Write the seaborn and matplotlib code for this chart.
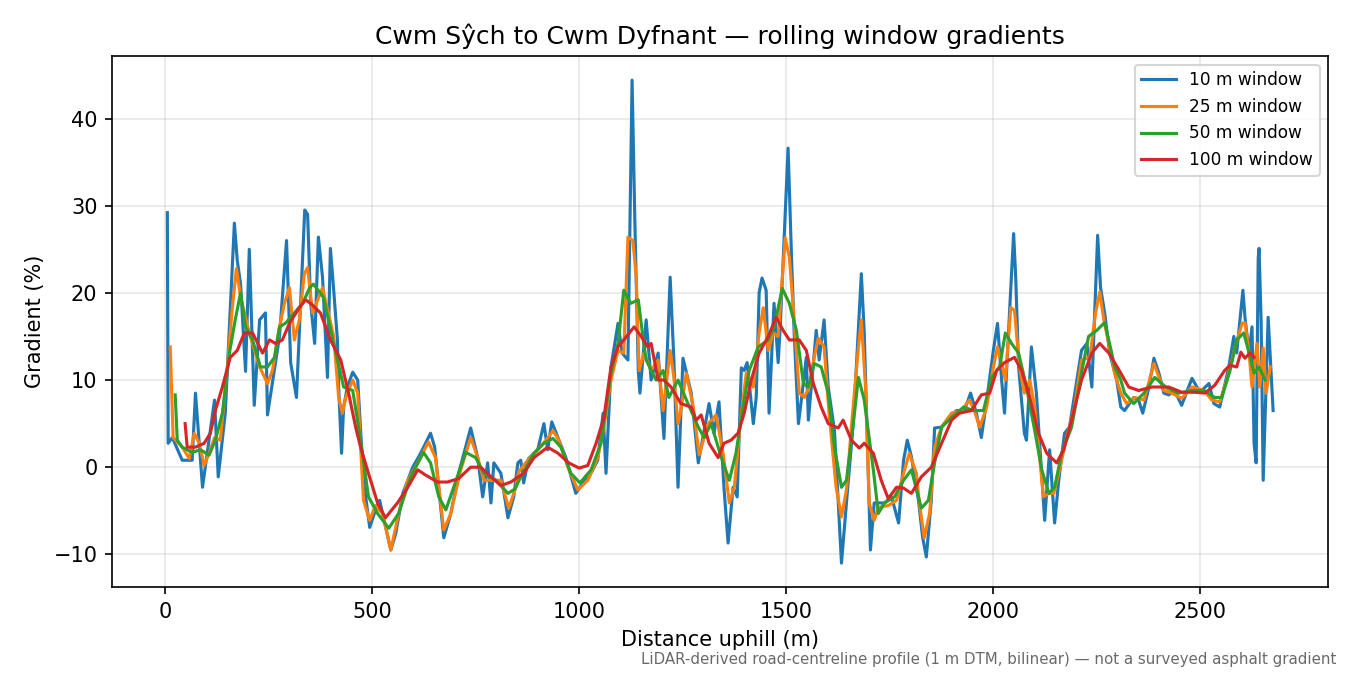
import pandas as pd
import matplotlib
matplotlib.use("Agg")
import matplotlib.pyplot as plt
import seaborn as sns

# distances (m) and gradients (%), one pair of lists per window
dist_10 = [5, 7, 17, 41, 65, 73, 90, 119, 128, 145, 167, 174, 182, 194, 203, 215, 228, 242, 247, 276,
           293, 303, 317, 337, 344, 351, 361, 370, 380, 387, 392, 399, 407, 416, 419, 426, 431, 440, 453, 465,
           479, 494, 508, 518, 545, 557, 574, 598, 617, 641, 651, 673, 690, 709, 738, 755, 767, 779, 787, 794,
           811, 828, 842, 852, 859, 866, 878, 900, 915, 924, 934, 949, 968, 992, 1009, 1024, 1045, 1058, 1065, 1077,
           1094, 1104, 1118, 1128, 1135, 1143, 1147, 1162, 1174, 1191, 1205, 1220, 1229, 1239, 1251, 1271, 1288, 1314, 1326, 1338,
           1350, 1360, 1372, 1382, 1392, 1399, 1406, 1416, 1421, 1428, 1435, 1442, 1452, 1459, 1471, 1481, 1486, 1505, 1513, 1520,
           1530, 1537, 1549, 1554, 1573, 1580, 1592, 1602, 1617, 1634, 1646, 1663, 1682, 1689, 1704, 1713, 1738, 1755, 1772, 1784,
           1793, 1803, 1820, 1830, 1839, 1851, 1859, 1876, 1893, 1912, 1931, 1946, 1960, 1972, 1985, 2001, 2011, 2021, 2028, 2040,
           2050, 2055, 2062, 2076, 2081, 2093, 2105, 2125, 2137, 2149, 2159, 2173, 2185, 2214, 2227, 2239, 2253, 2260, 2270, 2282,
           2299, 2309, 2318, 2340, 2352, 2362, 2377, 2389, 2401, 2413, 2425, 2439, 2456, 2481, 2500, 2522, 2534, 2548, 2570, 2582,
           2589, 2604, 2609, 2619, 2626, 2631, 2636, 2641, 2643, 2648, 2653, 2665, 2677]
grad_10 = [29.2, 2.75, 3.4, 0.8, 0.8, 8.5, -2.3, 7.7, -1.1, 6.2, 28, 23.7, 21, 11, 25, 7.1, 16.9, 17.7, 6, 15,
           26, 12, 8, 29.5, 29, 19, 14.2, 26.4, 21.8, 15, 10.3, 25.1, 20.3, 14.6, 9.2, 1.6, 6.9, 9.2, 10.9, 10,
           -1.5, -6.9, -4.9, -3.8, -9.5, -7.6, -3, 0, 1.6, 3.9, 2.3, -8.1, -5.3, -0.7, 4.5, 1.1, -3.4, 0.5, -4.1, 0.5,
           -0.7, -5.8, -3.4, 0.5, 0.8, -1.8, 1, 2, 5, 2, 5.2, 3.4, 1.1, -3, -1.8, -1.1, 0.8, 6.2, -0.7, 11.5,
           16.5, 13.1, 12.3, 44.4, 27.5, 11.1, 8.5, 16.9, 10, 13.1, 3.3, 21.8, 12.3, -2.3, 12.5, 8.5, 0.5, 7.3, 3.9, 7.5,
           -2.3, -8.7, -2.3, -3.4, 11.4, 11.1, 12, 7.3, 5, 8, 20, 21.7, 20.3, 6.2, 18.8, 12, 16.1, 36.6, 24.5, 15,
           5, 7.7, 12.6, 5.4, 15.7, 12.3, 16.9, 9.2, 4.2, -11, -4.1, 5.4, 22.2, 15.4, -9.5, -4.1, -4.1, -3.4, -6.4, 0.8,
           3.1, 1.2, -3.8, -8, -10.3, -3.8, 4.5, 4.6, 5.7, 6.5, 6.5, 8.5, 6.2, 3.4, 7.7, 13.4, 16.5, 10, 6.2, 17.7,
           26.8, 21.8, 11.5, 3.9, 3.1, 13.8, 8.5, -6.1, 2, -6.4, -1.5, 3.9, 4.6, 13.4, 14.2, 9.2, 26.6, 20.6, 17.7, 13.1,
           10, 6.9, 6.5, 8, 7.7, 6.2, 9.2, 12.5, 10.8, 8.5, 8.3, 8.8, 7.1, 10.2, 8.6, 9.6, 7.3, 6.9, 11.5, 15,
           13.1, 20.3, 17.2, 13.1, 16.1, 2.75, 0.5, 24, 25.1, 16.9, -1.5, 17.2, 6.5]

dist_25 = [12, 19, 41, 58, 70, 82, 94, 106, 119, 133, 150, 162, 172, 182, 203, 228, 247, 259, 276, 288,
           300, 312, 324, 336, 344, 356, 380, 394, 407, 419, 428, 436, 453, 465, 479, 494, 508, 525, 545, 564,
           586, 610, 636, 653, 673, 690, 714, 738, 755, 770, 791, 811, 830, 847, 854, 876, 900, 920, 937, 951,
           973, 997, 1021, 1045, 1060, 1077, 1094, 1108, 1118, 1130, 1138, 1145, 1157, 1174, 1191, 1203, 1220, 1229, 1239, 1246,
           1259, 1276, 1290, 1312, 1322, 1331, 1348, 1363, 1375, 1392, 1404, 1421, 1435, 1445, 1457, 1469, 1481, 1498, 1508, 1518,
           1532, 1544, 1556, 1568, 1578, 1592, 1604, 1621, 1634, 1646, 1658, 1675, 1682, 1692, 1701, 1713, 1723, 1747, 1767, 1784,
           1798, 1815, 1822, 1834, 1847, 1859, 1876, 1900, 1924, 1943, 1955, 1968, 1985, 2001, 2011, 2021, 2030, 2043, 2052, 2064,
           2076, 2089, 2101, 2122, 2135, 2147, 2159, 2178, 2197, 2214, 2234, 2248, 2258, 2268, 2287, 2294, 2309, 2323, 2343, 2365,
           2389, 2413, 2432, 2456, 2481, 2510, 2529, 2548, 2570, 2585, 2602, 2609, 2619, 2626, 2638, 2645, 2653, 2660, 2670]
grad_25 = [13.8, 3.4, 2.3, 1, 3.9, 2.75, 0.2, 1.6, 3.4, 3.1, 11.5, 18.3, 22.8, 19.5, 15.4, 11.5, 9.6, 11.1, 16.1, 18.8,
           20.6, 14.6, 16.9, 22.2, 22.9, 17.7, 20.6, 17.7, 15, 8, 6.2, 8, 10, 8.5, -3.8, -6.1, -4.4, -5.3, -9.5, -5.3,
           -1.5, 0.5, 2.9, 1.1, -7.2, -5.3, -0.3, 3.4, 1.1, -1.5, -1.5, -1.5, -4.7, -2.3, -0.5, 0.8, 2, 3.1, 4.2, 3.1,
           0, -2.6, -1.5, 1.1, 4.6, 10, 13.4, 13.1, 26.4, 26, 21.8, 11.1, 13.1, 11.1, 12.3, 6.5, 13.4, 10.3, 5, 6.5,
           10.8, 6.9, 1.4, 5, 5.5, 6, 1.6, -4.1, -2.3, 6.2, 10.8, 9.2, 15.4, 18.3, 13.4, 15.4, 15, 26.3, 24.1, 18,
           8.5, 8, 9.2, 12.6, 14.8, 13.8, 6.2, -2.3, -5.7, -2.6, 4.6, 13.8, 16.9, 9.2, -4.1, -6.1, -4.6, -4.4, -3.8, -0.7,
           1.6, -0.7, -4, -8.1, -5.3, 2.3, 4.6, 6.2, 6.5, 7.7, 6.5, 4.6, 6.9, 11.5, 13.8, 11.9, 10, 18.3, 18, 11.5,
           8.5, 10, 6.9, -3.4, -3, -3, -0.7, 3.4, 6.9, 12.3, 12.6, 17.7, 20.1, 16.9, 12.6, 10.8, 8.5, 7.3, 8, 7.7,
           11.9, 8.8, 8.5, 7.9, 9.2, 8.8, 7.7, 7.5, 10.8, 13.8, 16.5, 16.6, 13.1, 9.2, 14.2, 9.2, 13.7, 8.5, 11.5]

dist_50 = [24, 29, 41, 65, 85, 106, 121, 138, 155, 169, 182, 194, 211, 230, 247, 264, 276, 290, 312, 332,
           349, 358, 382, 407, 431, 453, 472, 491, 513, 540, 564, 593, 624, 641, 661, 678, 697, 726, 750, 770,
           799, 828, 845, 859, 891, 915, 937, 956, 980, 1002, 1029, 1053, 1077, 1094, 1108, 1125, 1143, 1154, 1162, 1186,
           1203, 1217, 1239, 1263, 1288, 1302, 1319, 1338, 1348, 1363, 1379, 1396, 1411, 1433, 1457, 1471, 1491, 1508, 1525, 1542,
           1554, 1568, 1585, 1602, 1617, 1634, 1646, 1658, 1675, 1689, 1711, 1723, 1738, 1762, 1784, 1803, 1827, 1844, 1859, 1876,
           1900, 1929, 1953, 1977, 1997, 2016, 2030, 2045, 2062, 2081, 2101, 2118, 2135, 2149, 2166, 2190, 2214, 2231, 2251, 2270,
           2287, 2294, 2309, 2318, 2340, 2365, 2391, 2420, 2449, 2481, 2510, 2536, 2553, 2573, 2589, 2606, 2619, 2631, 2643, 2658]
grad_50 = [8.3, 3.1, 2.3, 1.7, 2, 1.4, 3.1, 6.2, 13.1, 16.9, 20, 16.1, 14.6, 11.5, 11.5, 12.6, 16.1, 16.5, 17.7, 18.8,
           20.6, 21, 19.5, 14.2, 9.2, 8.8, 3.1, -3.4, -5.3, -7, -5.3, -1.1, 1.7, 0.5, -3.4, -4.9, -2.3, 1.7, 1.1, -0.7,
           -1.5, -3, -2.5, -1.1, 1.6, 2.75, 3.3, 2.3, -0.7, -1.8, -0.3, 2.75, 10.8, 14.2, 20.3, 18.8, 19.2, 15, 12.3, 10,
           11.1, 8, 10, 7.3, 4.6, 3.4, 5, 2, 0.5, -1.5, 1.6, 6.9, 11.1, 13.8, 14.6, 16.1, 20.5, 18.8, 15.7, 9.6,
           9.2, 11.9, 11.5, 8.5, 2.3, -2.3, -1.5, 3.1, 10.3, 7.7, -0.3, -5.3, -4.1, -3.4, -1.5, -0.3, -4.7, -3.8, 0.5, 4.6,
           5.7, 6.9, 6.5, 6.5, 10.3, 11.5, 15.4, 14.2, 13.1, 9.2, 4.2, -0.3, -3, -2.3, 1.6, 4.6, 10.8, 15, 15.7, 16.6,
           13.1, 11.5, 10, 8.5, 7.3, 8.5, 10.3, 9.1, 8.5, 8.8, 8.8, 8, 8, 11.1, 14.6, 15.4, 13.1, 10.8, 11.5, 10]

dist_100 = [48, 53, 73, 94, 109, 121, 138, 157, 174, 191, 211, 235, 252, 266, 283, 300, 324, 339, 351, 375,
            399, 424, 443, 460, 472, 491, 513, 532, 561, 586, 610, 629, 658, 682, 709, 738, 762, 787, 811, 835,
            866, 891, 924, 949, 975, 1000, 1021, 1041, 1060, 1077, 1094, 1108, 1133, 1150, 1166, 1174, 1191, 1205, 1222, 1246,
            1271, 1283, 1295, 1314, 1336, 1350, 1367, 1384, 1399, 1416, 1435, 1457, 1476, 1493, 1508, 1532, 1549, 1566, 1585, 1602,
            1626, 1638, 1658, 1677, 1689, 1711, 1730, 1747, 1767, 1784, 1803, 1827, 1851, 1876, 1900, 1919, 1948, 1972, 1992, 2009,
            2028, 2052, 2069, 2089, 2110, 2130, 2154, 2171, 2190, 2214, 2239, 2258, 2280, 2304, 2328, 2352, 2384, 2425, 2456, 2488,
            2512, 2536, 2560, 2573, 2589, 2599, 2609, 2621, 2631]
grad_100 = [5, 2.3, 2.3, 2.75, 3.9, 6.5, 9.2, 12.6, 13.4, 15.4, 15.4, 13.1, 14.6, 14.2, 14.6, 16.5, 18.3, 19.2, 18.8, 17.7,
            14.6, 12.3, 8.5, 4.6, 2.3, -0.7, -4.1, -5.8, -4.1, -2.3, -0.3, -0.9, -1.7, -1.7, -1.3, 0, 0, -1.1, -2.1, -1.7,
            -0.7, 1.1, 2.3, 1.6, 0.5, -0.1, 0.2, 2.75, 5.7, 11.5, 13.8, 14.6, 16.1, 15, 13.8, 14.2, 10, 10, 9.2, 7.3,
            6.9, 5.4, 6, 2.75, 1.1, 2.75, 3.1, 3.9, 6.2, 10, 13.1, 15, 17.2, 15.7, 14.6, 14.6, 13.4, 9.6, 6.9, 5,
            4.5, 5.4, 3.1, 2.2, 2.75, 1.6, -1.5, -3.6, -2.3, -2.4, -3, -1.1, 0, 2.75, 5.4, 6.2, 6.5, 8.3, 8.5, 11.1,
            12, 12.6, 11.1, 8, 3.9, 1.6, 0.5, 2, 5.4, 10, 13.1, 14.2, 13.1, 11.2, 9.2, 8.8, 9.2, 9.2, 8.6, 8.6,
            8.5, 9.4, 11.1, 11.7, 11.5, 13.2, 12.5, 13.1, 12.6]

windows = ["10 m window", "25 m window", "50 m window", "100 m window"]
series = [(dist_10, grad_10), (dist_25, grad_25), (dist_50, grad_50), (dist_100, grad_100)]

fig, ax = plt.subplots(figsize=(9, 4.5), dpi=150)
fig.subplots_adjust(left=0.083, right=0.984, top=0.917, bottom=0.13)

palette = sns.color_palette("tab10", 4)
for (d, g), name, col in zip(series, windows, palette):
    df = pd.DataFrame({"dist": d, "grad": g})
    sns.lineplot(data=df, x="dist", y="grad", ax=ax, color=col, label=name,
                 linewidth=1.5, estimator=None, sort=False)

ax.set_title("Cwm Sŷch to Cwm Dyfnant — rolling window gradients", fontsize=12)
ax.set_xlabel("Distance uphill (m)")
ax.set_ylabel("Gradient (%)")
ax.set_xticks([0, 500, 1000, 1500, 2000, 2500])
ax.set_yticks([-10, 0, 10, 20, 30, 40])
ax.grid(True, alpha=0.3)
ax.legend(loc="upper right", fontsize=8.2)

fig.text(0.99, 0.012, "LiDAR-derived road-centreline profile (1 m DTM, bilinear) — not a surveyed asphalt gradient",
         ha="right", va="bottom", fontsize=7.2, color="dimgray")

fig.savefig("out.png", dpi=150)
